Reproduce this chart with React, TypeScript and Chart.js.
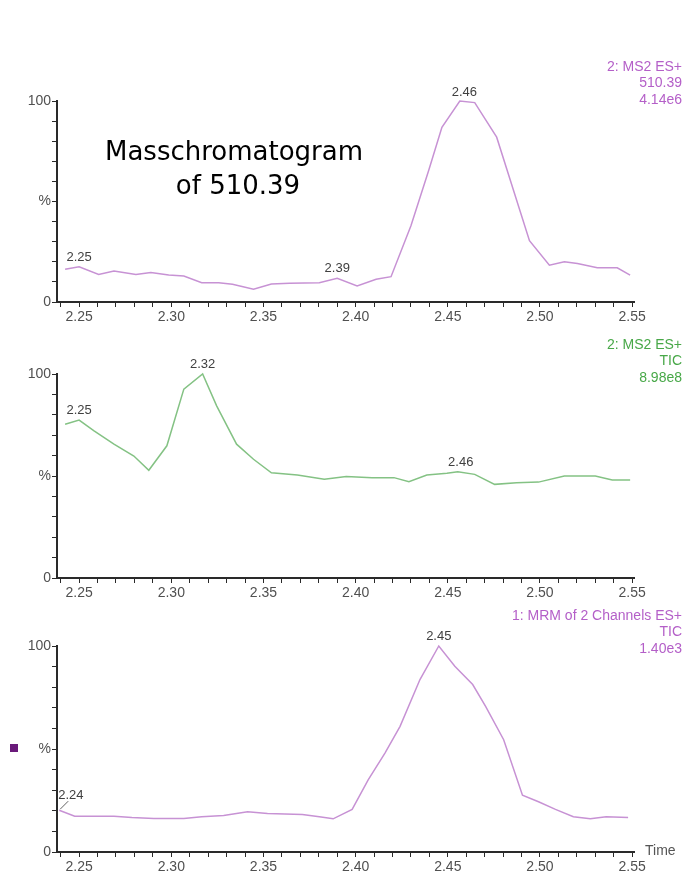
import React, { useEffect, useRef } from "react";
import { Chart, registerables } from "chart.js";

Chart.register(...registerables);

// ---------- data ----------
const xTickLabels = ["2.25", "2.30", "2.35", "2.40", "2.45", "2.50", "2.55"];
const yTickLabels = ["0", "%", "100"];

// Panel 1: MS2 ES+ 510.39
const ms2Time = [2.2424, 2.25, 2.2606, 2.2689, 2.2808, 2.2889, 2.2986, 2.3068, 2.3165, 2.3257, 2.3332, 2.3446, 2.3543, 2.3641, 2.3803, 2.39, 2.4008, 2.4111, 2.4192, 2.43, 2.4397, 2.4468, 2.4565, 2.4646, 2.4765, 2.4943, 2.5051, 2.5132, 2.5203, 2.5311, 2.5419, 2.5489];
const ms2Pct = [16.3, 17.5, 13.7, 15.4, 13.7, 14.7, 13.4, 12.9, 9.6, 9.6, 8.8, 6.4, 9.0, 9.3, 9.6, 11.8, 8.0, 11.3, 12.6, 37.9, 65.7, 86.9, 100, 99.2, 82.0, 30.5, 18.3, 20.0, 19.1, 17.0, 17.0, 13.4];
const ms2PeakLabels = ["2.25", "2.39", "2.46"];
const ms2PeakTimes = [2.25, 2.39, 2.459];
const ms2Header = ["2: MS2 ES+", "510.39", "4.14e6"];
const titleLines = ["Masschromatogram", "of 510.39"];

// Panel 2: MS2 ES+ TIC
const ticTime = [2.2424, 2.25, 2.2581, 2.2689, 2.2797, 2.2878, 2.2976, 2.3068, 2.317, 2.3246, 2.3354, 2.3446, 2.3543, 2.3684, 2.383, 2.3949, 2.4089, 2.4208, 2.4289, 2.4386, 2.4495, 2.4554, 2.4646, 2.4754, 2.4873, 2.4992, 2.5132, 2.53, 2.5392, 2.5489];
const ticPct = [75.4, 77.4, 72.1, 65.6, 59.8, 52.8, 64.8, 92.6, 100, 84.4, 65.6, 58.2, 51.6, 50.5, 48.4, 49.7, 49.2, 49.2, 47.2, 50.5, 51.3, 52.1, 50.8, 45.9, 46.7, 47.0, 50.0, 50.0, 48.0, 48.0];
const ticPeakLabels = ["2.25", "2.32", "2.46"];
const ticPeakTimes = [2.25, 2.317, 2.457];
const ticHeader = ["2: MS2 ES+", "TIC", "8.98e8"];

// Panel 3: MRM of 2 Channels ES+ TIC
const mrmTime = [2.2392, 2.2476, 2.2689, 2.2786, 2.2905, 2.3068, 2.3165, 2.3284, 2.3414, 2.3522, 2.3711, 2.3803, 2.3878, 2.3981, 2.4068, 2.4159, 2.4241, 2.4349, 2.4451, 2.4538, 2.4635, 2.4705, 2.4803, 2.4905, 2.4992, 2.5084, 2.5181, 2.5273, 2.5359, 2.5478];
const mrmPct = [20.3, 17.4, 17.4, 16.7, 16.3, 16.3, 17.1, 17.7, 19.5, 18.7, 18.2, 17.1, 16.1, 20.7, 35, 48, 61, 83.7, 100, 90.2, 81.3, 70.7, 54.5, 27.6, 24.4, 20.7, 17.1, 16.1, 17.1, 16.7];
const mrmPeakLabels = ["2.24", "2.45"];
const mrmPeakTimes = [2.2392, 2.4451];
const mrmPeakLeader = [true, false];
const mrmHeader = ["1: MRM of 2 Channels ES+", "TIC", "1.40e3"];
const timeAxisTitle = "Time";

// ---------- layout / style ----------
const W = 688;
const X_MIN = 2.238;
const X_MAX = 2.551;
const PLOT_LEFT = 57;
const PLOT_RIGHT = 634;
const X_AXIS_H = 24;
const AXIS_COLOR = "#2a2a2a";
const TICK_COLOR = "#505050";
const SANS = "'Liberation Sans', Arial, sans-serif";

const minorTicks: number[] = [];
for (let i = 224; i <= 255; i++) minorTicks.push(i / 100);

function interp(ts: number[], vs: number[], t: number) {
  if (t <= ts[0]) return vs[0];
  for (let i = 1; i < ts.length; i++) {
    if (t <= ts[i]) {
      const f = (t - ts[i - 1]) / (ts[i] - ts[i - 1]);
      return vs[i - 1] + f * (vs[i] - vs[i - 1]);
    }
  }
  return vs[vs.length - 1];
}

type Spec = {
  top: number;
  height: number;
  plotTop: number;
  plotBottom: number;
  times: number[];
  values: number[];
  lineColor: string;
  labels: string[];
  labelTimes: number[];
  leaders?: boolean[];
  header: string[];
  headerColor: string;
  headerY: number;
  extra?: (ctx: CanvasRenderingContext2D, chart: any) => void;
};

const specs: Spec[] = [
  {
    top: 0,
    height: 335,
    plotTop: 101,
    plotBottom: 302,
    times: ms2Time,
    values: ms2Pct,
    lineColor: "#c792d4",
    labels: ms2PeakLabels,
    labelTimes: ms2PeakTimes,
    header: ms2Header,
    headerColor: "#b45fc8",
    headerY: 67,
    extra: (ctx) => {
      ctx.fillStyle = "#000";
      ctx.font = "26px 'DejaVu Sans', sans-serif";
      ctx.textAlign = "center";
      ctx.textBaseline = "middle";
      ctx.fillText(titleLines[0], 234, 153);
      ctx.fillText(titleLines[1], 238, 187);
    },
  },
  {
    top: 335,
    height: 270,
    plotTop: 374,
    plotBottom: 578,
    times: ticTime,
    values: ticPct,
    lineColor: "#84c284",
    labels: ticPeakLabels,
    labelTimes: ticPeakTimes,
    header: ticHeader,
    headerColor: "#48a848",
    headerY: 10,
  },
  {
    top: 605,
    height: 278,
    plotTop: 646,
    plotBottom: 852,
    times: mrmTime,
    values: mrmPct,
    lineColor: "#c792d4",
    labels: mrmPeakLabels,
    labelTimes: mrmPeakTimes,
    leaders: mrmPeakLeader,
    header: mrmHeader,
    headerColor: "#b45fc8",
    headerY: 11,
    extra: (ctx, chart) => {
      const y0 = chart.scales.y.getPixelForValue(0);
      ctx.fillStyle = "#555";
      ctx.font = "14px " + SANS;
      ctx.textAlign = "left";
      ctx.textBaseline = "middle";
      ctx.fillText(timeAxisTitle, 645, y0 - 1);
      const y50 = chart.scales.y.getPixelForValue(50);
      ctx.fillStyle = "#6a1a7a";
      ctx.fillRect(10, y50 - 5, 8, 8);
    },
  },
];

function buildChart(canvas: HTMLCanvasElement, spec: Spec) {
  const padTop = spec.plotTop - spec.top;
  const padBottom = spec.height - X_AXIS_H - (spec.plotBottom - spec.top);
  const annot = {
    id: "annot",
    afterDatasetsDraw(chart: any) {
      const ctx = chart.ctx as CanvasRenderingContext2D;
      const xs = chart.scales.x;
      const ys = chart.scales.y;
      ctx.save();
      // peak labels
      ctx.font = "13px " + SANS;
      ctx.fillStyle = "#404040";
      spec.labels.forEach((lab, i) => {
        const t = spec.labelTimes[i];
        const v = interp(spec.times, spec.values, t);
        const px = xs.getPixelForValue(t);
        const py = ys.getPixelForValue(v);
        if (spec.leaders && spec.leaders[i]) {
          ctx.strokeStyle = "#606060";
          ctx.lineWidth = 1;
          ctx.beginPath();
          ctx.moveTo(px + 1, py - 1);
          ctx.lineTo(px + 9, py - 9);
          ctx.stroke();
          ctx.textAlign = "left";
          ctx.textBaseline = "bottom";
          ctx.fillText(lab, px - 1, py - 8);
        } else {
          ctx.textAlign = "center";
          ctx.textBaseline = "bottom";
          ctx.fillText(lab, px, py - 3);
        }
      });
      // header
      ctx.font = "14px " + SANS;
      ctx.fillStyle = spec.headerColor;
      ctx.textAlign = "right";
      ctx.textBaseline = "middle";
      spec.header.forEach((h, i) => {
        ctx.fillText(h, 682, spec.headerY + i * 16.5);
      });
      if (spec.extra) spec.extra(ctx, chart);
      ctx.restore();
    },
  };

  return new Chart(canvas, {
    type: "line",
    data: {
      datasets: [
        {
          data: spec.times.map((t, i) => ({ x: t, y: spec.values[i] })),
          borderColor: spec.lineColor,
          borderWidth: 1.5,
          pointRadius: 0,
          tension: 0,
          fill: false,
          clip: false as any,
        },
      ],
    },
    options: {
      responsive: false,
      animation: false,
      devicePixelRatio: 1,
      layout: {
        padding: { top: padTop, bottom: padBottom, left: 0, right: W - PLOT_RIGHT },
      },
      plugins: {
        legend: { display: false },
        tooltip: { enabled: false },
        title: { display: false },
      },
      scales: {
        x: {
          type: "linear",
          min: X_MIN,
          max: X_MAX,
          afterBuildTicks: (s: any) => {
            s.ticks = minorTicks.map((v) => ({ value: v }));
          },
          afterFit: (s: any) => {
            s.height = X_AXIS_H;
          },
          ticks: {
            autoSkip: false,
            maxRotation: 0,
            minRotation: 0,
            padding: 2,
            color: TICK_COLOR,
            font: { size: 14, family: SANS },
            callback: (v: any) => {
              const lab = xTickLabels.find((l) => Math.abs(parseFloat(l) - Number(v)) < 1e-6);
              return lab ?? "";
            },
          },
          grid: { drawOnChartArea: false, drawTicks: true, tickLength: 5, color: AXIS_COLOR, lineWidth: 1 },
          border: { display: true, color: AXIS_COLOR, width: 2 },
        },
        y: {
          type: "linear",
          min: 0,
          max: 100,
          afterBuildTicks: (s: any) => {
            const arr = [];
            for (let v = 0; v <= 100; v += 10) arr.push({ value: v });
            s.ticks = arr;
          },
          afterFit: (s: any) => {
            s.width = PLOT_LEFT;
          },
          ticks: {
            autoSkip: false,
            padding: 1,
            color: TICK_COLOR,
            font: { size: 14, family: SANS },
            callback: (v: any) => {
              const n = Number(v);
              if (n === 0) return yTickLabels[0];
              if (n === 50) return yTickLabels[1];
              if (n === 100) return yTickLabels[2];
              return "";
            },
          },
          grid: { drawOnChartArea: false, drawTicks: true, tickLength: 5, color: AXIS_COLOR, lineWidth: 1 },
          border: { display: true, color: AXIS_COLOR, width: 2 },
        },
      },
    } as any,
    plugins: [annot],
  });
}

function Panel({ spec }: { spec: Spec }) {
  const ref = useRef<HTMLCanvasElement>(null);
  useEffect(() => {
    if (!ref.current) return;
    const chart = buildChart(ref.current, spec);
    return () => chart.destroy();
  }, [spec]);
  return (
    <canvas
      ref={ref}
      width={W}
      height={spec.height}
      style={{ position: "absolute", left: 0, top: spec.top, width: W, height: spec.height }}
    />
  );
}

export default function App() {
  return (
    <div
      style={{
        position: "absolute",
        left: 0,
        top: 0,
        width: W,
        height: 883,
        background: "#fff",
        overflow: "hidden",
      }}
    >
      {specs.map((s, i) => (
        <Panel key={i} spec={s} />
      ))}
    </div>
  );
}
